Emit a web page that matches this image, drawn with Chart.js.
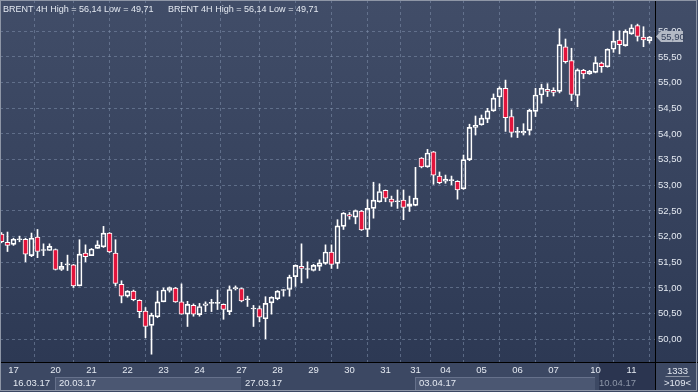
<!DOCTYPE html>
<html><head><meta charset="utf-8">
<script src="https://cdn.jsdelivr.net/npm/chart.js@4.4.1/dist/chart.umd.min.js"></script>
<style>html,body{margin:0;padding:0;background:#2b3245;overflow:hidden}#wrap{width:698px;height:392px;position:relative}canvas{display:block}</style>
</head><body><div id="wrap"><canvas id="c" width="698" height="392"></canvas></div>
<script>
// ---- data (BRENT 4H candles, 16.03.17 - 11.04.17) ----
const opens = [52.05,51.89,51.85,51.94,51.95,51.63,51.99,51.73,51.73,51.75,
51.36,51.45,51.45,51.04,51.68,51.63,51.77,51.80,52.07,51.68,
51.07,50.84,50.94,50.76,50.55,50.27,50.44,50.73,50.95,51.00,
50.73,50.49,50.66,50.48,50.66,50.70,50.70,50.68,50.54,50.98,
50.99,50.77,50.59,50.60,50.40,50.71,50.79,50.95,50.97,51.22,
51.42,51.36,51.34,51.42,51.48,51.70,51.48,52.20,52.43,52.38,
52.50,52.14,52.55,52.68,52.90,52.73,52.68,52.71,52.59,52.61,
53.53,53.36,53.65,53.18,53.08,53.09,53.08,52.93,53.50,54.13,
54.18,54.29,54.45,54.72,54.89,54.34,54.03,54.02,54.07,54.44,
54.76,54.87,54.85,54.83,55.70,55.43,54.75,55.24,55.17,55.20,
55.38,55.31,55.65,55.83,55.72,55.95,56.11,55.89,55.82];
const highs = [52.08,52.09,51.97,52.01,51.97,52.07,52.14,51.86,51.86,51.76,
51.50,51.64,51.46,51.94,51.84,51.77,51.92,52.20,52.08,51.94,
51.14,50.95,50.96,50.77,50.62,50.51,50.94,51.00,51.02,51.01,
51.08,50.74,50.69,50.70,50.73,50.78,50.96,50.69,51.04,51.04,
51.00,50.84,50.66,50.65,50.83,50.83,50.95,50.97,51.25,51.45,
51.86,51.51,51.46,51.55,51.84,51.84,52.33,52.47,52.47,52.52,
52.51,52.72,53.06,53.03,52.91,52.79,52.91,52.91,52.79,53.35,
53.54,53.70,53.66,53.26,53.20,53.18,53.09,53.59,54.19,54.35,
54.37,54.50,54.78,54.92,55.05,54.47,54.13,54.20,54.48,54.89,
54.97,54.98,54.90,56.05,55.85,55.67,55.27,55.26,55.24,55.50,
55.40,55.66,56.00,56.01,56.03,56.13,56.14,56.09,55.90];
const lows = [51.88,51.71,51.83,51.90,51.51,51.61,51.59,51.63,51.73,51.35,
51.34,51.34,51.01,51.04,51.51,51.63,51.77,51.79,51.69,51.04,
50.71,50.82,50.75,50.42,50.03,49.71,50.42,50.73,50.92,50.72,
50.49,50.25,50.45,50.45,50.54,50.54,50.58,50.39,50.48,50.96,
50.73,50.64,50.25,50.34,50.01,50.49,50.77,50.84,50.84,51.03,
51.10,51.19,51.33,51.34,51.46,51.38,51.38,52.14,52.34,52.25,
52.12,52.00,52.36,52.67,52.68,52.59,52.55,52.33,52.49,52.60,
53.34,53.35,53.02,53.03,53.04,53.01,52.73,52.92,53.48,53.98,
54.17,54.22,54.44,54.53,54.05,53.94,53.93,53.98,53.98,54.34,
54.60,54.73,54.74,54.80,55.38,54.65,54.53,55.08,55.16,55.19,
55.20,55.30,55.59,55.56,55.71,55.94,55.81,55.70,55.77];
const closes = [51.90,51.83,51.95,51.95,51.66,51.97,51.71,51.74,51.81,51.36,
51.42,51.46,51.04,51.66,51.61,51.76,51.84,52.07,51.70,51.09,
50.84,50.94,50.77,50.54,50.25,50.47,50.73,50.96,51.01,50.73,
50.49,50.68,50.49,50.64,50.69,50.71,50.71,50.58,50.97,51.01,
50.75,50.78,50.60,50.43,50.70,50.82,50.94,50.96,51.21,51.44,
51.38,51.37,51.44,51.49,51.70,51.46,52.21,52.46,52.40,52.51,
52.13,52.55,52.71,52.88,52.75,52.67,52.69,52.57,52.64,52.75,
53.36,53.63,53.20,53.05,53.12,53.10,52.91,53.50,54.13,54.17,
54.31,54.45,54.70,54.89,54.32,54.03,54.04,54.05,54.46,54.76,
54.89,54.83,54.81,55.74,55.41,54.77,55.25,55.17,55.22,55.39,
55.31,55.65,55.81,55.74,56.00,56.07,55.90,55.83,55.89];

const dayTickIndex  = [2,9,15,21,27,33,40,46,52,58,64,69,74,80,86,92,99,105];
const dayTickLabels = ['17','20','21','22','23','24','27','28','29','30','31','31','04','05','06','07','10','11'];
const weekStartIndex = [-1,9,40,69,99];
const weekLabels = ['16.03.17','20.03.17','27.03.17','03.04.17','10.04.17'];
const priceTicks = [50,50.5,51,51.5,52,52.5,53,53.5,54,54.5,55,55.5,56];
const headerText = 'BRENT 4H High = 56,14 Low = 49,71';
const lastPrice = 55.90;
const lastPriceLabel = '55,90';
const totalBarsLabel = '1333';
const visibleBarsLabel = '>109<';

// ---- build datasets ----
const idx = opens.map((_, i) => i);
const bodyData = idx.map(i => ({x: i, y: [opens[i], closes[i]]}));
const upWick = idx.map(i => ({x: i, y: [Math.max(opens[i], closes[i]), highs[i]]}));
const loWick = idx.map(i => ({x: i, y: [lows[i], Math.min(opens[i], closes[i])]}));

const FONT = 'Liberation Sans, Arial, sans-serif';
const TXT = '#e4e9f1';
const GRID = 'rgba(128,143,172,0.55)';
const RED = '#e2143c';

const deco = {
  id: 'deco',
  beforeDraw(chart) {
    const {ctx, chartArea: a} = chart;
    const xs = chart.scales.x;
    ctx.save();
    const g = ctx.createLinearGradient(0, 0, 0, a.bottom);
    g.addColorStop(0, '#414d68');
    g.addColorStop(1, '#2d3954');
    ctx.fillStyle = g;
    ctx.fillRect(0, 0, 698, a.bottom);
    ctx.fillStyle = '#3c4863';
    ctx.fillRect(0, a.bottom, 698, 392 - a.bottom);
    for (let k = 1; k < weekStartIndex.length; k++) {
      const x0 = Math.round(xs.getPixelForValue(weekStartIndex[k]));
      const x1 = k + 1 < weekStartIndex.length ? Math.round(xs.getPixelForValue(weekStartIndex[k + 1])) : a.right;
      if (k === weekStartIndex.length - 1) {
        ctx.fillStyle = '#2b3550';
        ctx.fillRect(x0 + 4, a.bottom + 1, a.right - x0 - 4, 390 - a.bottom - 1);
      } else if (k % 2 === 1) {
        ctx.fillStyle = '#4b5772';
        ctx.fillRect(x0, 377, x1 - x0, 13);
        ctx.fillStyle = '#66718b';
        ctx.fillRect(x0, 377, 1, 13);
        ctx.fillRect(x0, 377, x1 - x0, 1);
      }
    }
    ctx.restore();
  },
  afterDraw(chart) {
    const {ctx, chartArea: a} = chart;
    const xs = chart.scales.x, ys = chart.scales.y;
    ctx.save();
    // header (slightly condensed like the original terminal font)
    ctx.font = '9.5px ' + FONT;
    ctx.fillStyle = TXT;
    ctx.textBaseline = 'alphabetic';
    ctx.textAlign = 'left';
    [3, 168].forEach(hx => {
      ctx.save();
      ctx.translate(hx, 11.5);
      ctx.scale(0.95, 1);
      ctx.fillText(headerText, 0, 0);
      ctx.restore();
    });
    // week labels
    ctx.textBaseline = 'middle';
    for (let k = 0; k < weekLabels.length; k++) {
      const x = k === 0 ? 13 : Math.round(xs.getPixelForValue(weekStartIndex[k])) + 4;
      ctx.fillStyle = k === weekLabels.length - 1 ? '#8d96a8' : TXT;
      ctx.fillText(weekLabels[k], x, 383.5);
    }
    // separators
    ctx.strokeStyle = '#000';
    ctx.lineWidth = 1;
    ctx.beginPath();
    ctx.moveTo(a.right, a.bottom + 0.5); ctx.lineTo(698, a.bottom + 0.5);
    ctx.moveTo(Math.round(a.right) + 0.5, a.bottom); ctx.lineTo(Math.round(a.right) + 0.5, 391);
    ctx.stroke();
    // bottom-right box
    const cx = (a.right + 698) / 2 + 1;
    ctx.textAlign = 'center';
    ctx.fillStyle = TXT;
    ctx.fillText(totalBarsLabel, cx, 371);
    ctx.fillText(visibleBarsLabel, cx, 383.5);
    ctx.fillStyle = '#8c94a4';
    ctx.fillRect(cx - 12, 376, 24, 1);
    // last price marker
    const py = ys.getPixelForValue(lastPrice);
    const x0 = Math.round(a.right) + 1;
    ctx.beginPath();
    ctx.moveTo(x0, py);
    ctx.lineTo(x0 + 5, py - 5.5);
    ctx.lineTo(683, py - 5.5);
    ctx.lineTo(683, py + 5.5);
    ctx.lineTo(x0 + 5, py + 5.5);
    ctx.closePath();
    ctx.fillStyle = '#b3b9c5';
    ctx.fill();
    ctx.fillStyle = '#34405b';
    ctx.textAlign = 'left';
    ctx.fillText(lastPriceLabel, x0 + 5, py + 0.5);
    // outer frame
    ctx.strokeStyle = '#8e96a6';
    ctx.strokeRect(0.5, 0.5, 696, 390);
    ctx.restore();
  }
};

new Chart(document.getElementById('c'), {
  type: 'bar',
  data: {
    datasets: [
      {data: bodyData, grouped: false, barThickness: 5, minBarLength: 1, borderWidth: 1, borderSkipped: false,
       borderColor: '#ffffff',
       backgroundColor: ctx => { const i = ctx.dataIndex; return (i !== undefined && closes[i] < opens[i]) ? RED : 'rgba(0,0,0,0)'; }},
      {data: upWick, grouped: false, barThickness: 1, borderWidth: 0, backgroundColor: '#ffffff'},
      {data: loWick, grouped: false, barThickness: 1, borderWidth: 0, backgroundColor: '#ffffff'}
    ]
  },
  options: {
    responsive: false,
    animation: false,
    events: [],
    layout: {padding: 0},
    plugins: {legend: {display: false}, tooltip: {enabled: false}, title: {display: false}},
    scales: {
      x: {
        type: 'linear', position: 'bottom', offset: false,
        min: -0.25, max: 108.9167,
        afterBuildTicks: s => { s.ticks = dayTickIndex.map(v => ({value: v})); },
        afterFit: s => { s.height = 30; s.paddingLeft = 0; s.paddingRight = 0; },
        ticks: {autoSkip: false, maxRotation: 0, minRotation: 0, color: TXT, padding: 3,
                font: {family: FONT, size: 9.5},
                callback: (v, i) => dayTickLabels[i] ?? ''},
        grid: {color: GRID, drawTicks: false, lineWidth: 1},
        border: {color: '#000000', width: 1, dash: [3, 3]}
      },
      y: {
        type: 'linear', position: 'right',
        min: 49.558, max: 56.61,
        afterBuildTicks: s => { s.ticks = priceTicks.map(v => ({value: v})); },
        afterFit: s => { s.width = 43; s.paddingTop = 0; s.paddingBottom = 0; },
        ticks: {color: TXT, padding: 3, font: {family: FONT, size: 9.5},
                callback: v => Number(v).toFixed(2).replace('.', ',')},
        grid: {color: GRID, drawTicks: false, lineWidth: 1},
        border: {color: '#000000', width: 1, dash: [3, 3]}
      }
    }
  },
  plugins: [deco]
});
</script>
</body></html>
